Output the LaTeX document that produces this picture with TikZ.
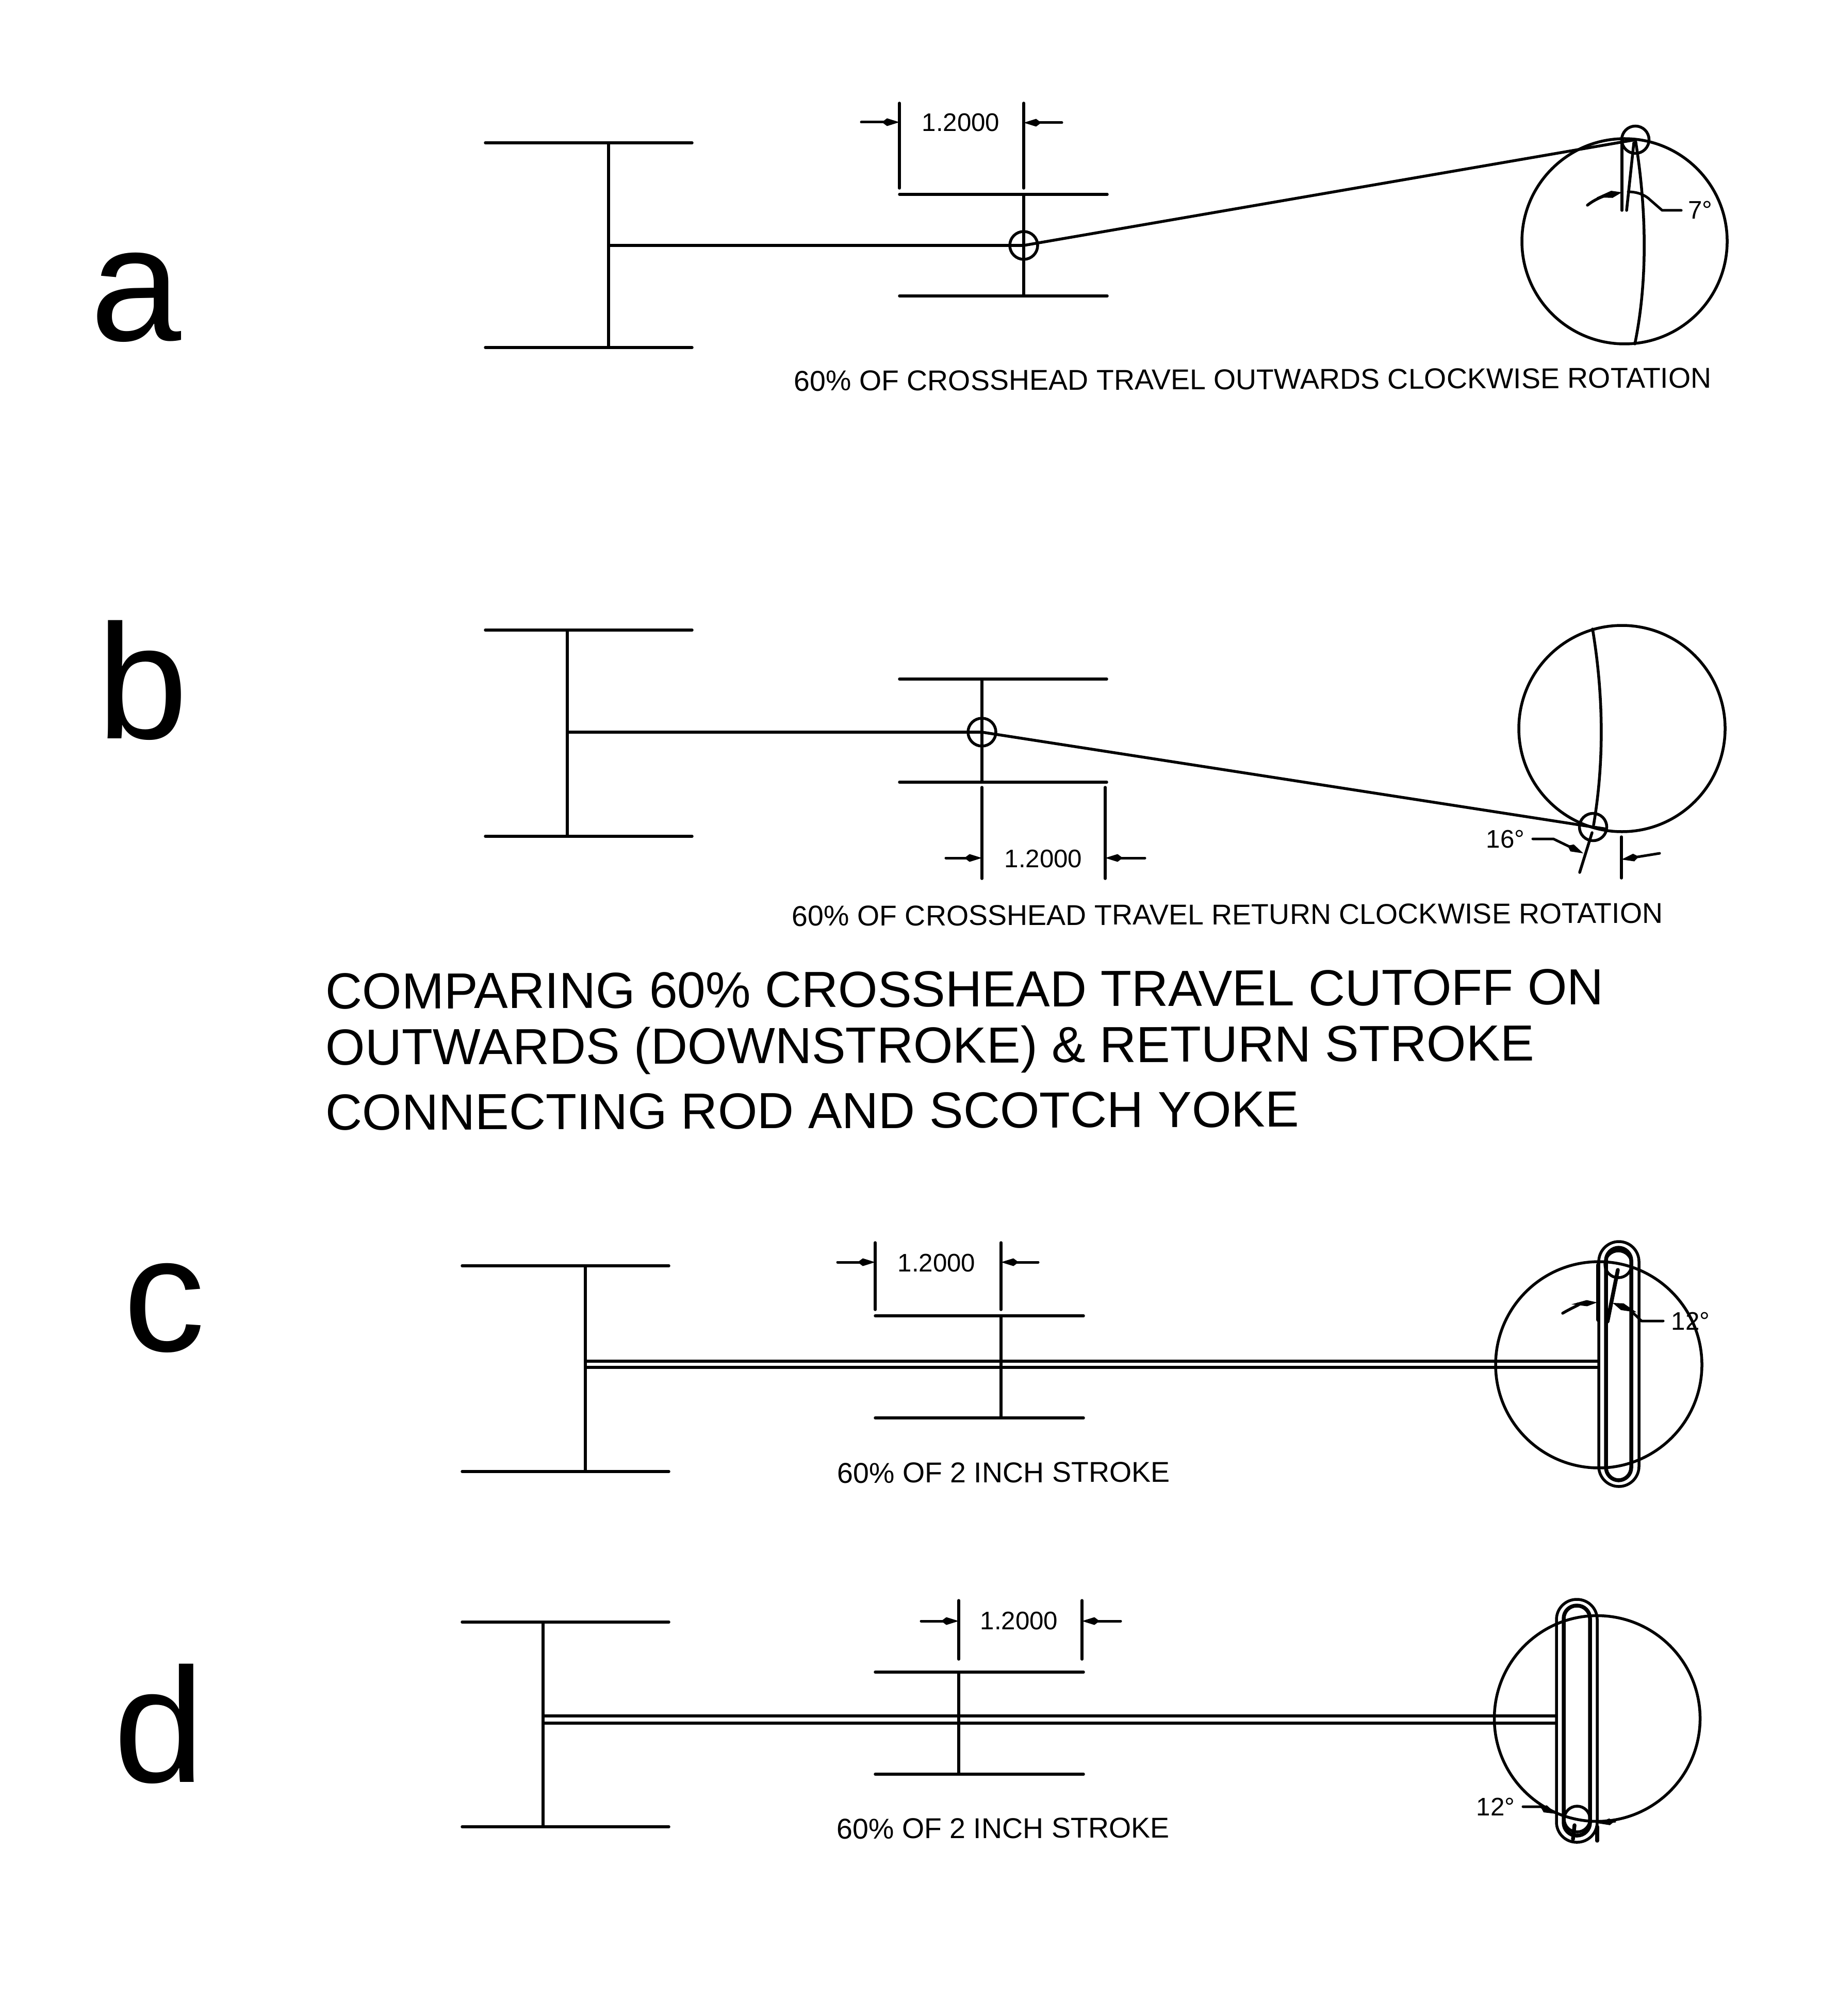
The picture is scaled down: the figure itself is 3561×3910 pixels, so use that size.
\documentclass[tikz,border=0pt]{standalone}
\usepackage{fontspec}
\setmainfont{Liberation Sans}
\usetikzlibrary{arrows.meta}
\tikzset{
  ln/.style={line width=0.055cm,line cap=round,line join=round,black},
  thk/.style={line width=0.075cm,line cap=round,line join=round,black},
  dimarrow/.style={line width=0.05cm,line cap=round,-{Kite[length=0.34cm,width=0.15cm,inset=0.1cm]}},
  dimtext/.style={font=\fontsize{14}{14}\selectfont,inner sep=0pt},
  captiontext/.style={font=\fontsize{15.8}{16}\selectfont,inner sep=0pt,rotate=0.2},
  titletext/.style={font=\fontsize{28}{28}\selectfont,inner sep=0pt,anchor=west,rotate=0.2},
  lettertext/.style={font=\fontsize{90}{90}\selectfont,inner sep=0pt,anchor=base},
  slotouter/.style={ln,rounded corners=0.39cm},
  slotinner/.style={thk,rounded corners=0.25cm}
}
\begin{document}
\begin{tikzpicture}[x=0.01cm,y=-0.01cm]
\useasboundingbox (0,0) rectangle (3561,3910);
% ---------- letters
\node[lettertext] (la) at (264,661) {a};
\node[lettertext] (lb) at (277,1432) {b};
\node[lettertext] (lc) at (319,2620) {c};
\node[lettertext] (ld) at (309,3456) {d};
% ---------- panel a
\coordinate (apin) at (1985,476);
\coordinate (acrank) at (3171,271);
\draw[ln] (941,277) -- (1342,277);
\draw[ln] (941,674) -- (1342,674);
\draw[ln] (1180,277) -- (1180,674);
\draw[ln] (1180,476) -- (apin);
\draw[ln] (1744,377) -- (2147,377);
\draw[ln] (1744,574) -- (2147,574);
\draw[ln] (1985,377) -- (1985,574);
\draw[ln] (apin) circle (27);
\draw[ln] (apin) -- (acrank);
\draw[ln] (1744,200) -- (1744,365);
\draw[ln] (1985,200) -- (1985,365);
\draw[dimarrow] (1670,237) -- (1744,237);
\draw[dimarrow] (2059,238) -- (1985,238);
\node[dimtext] (adim) at (1863,238) {1.2000};
\draw[ln] (3150,468) circle (199);
\draw[ln] (acrank) circle (26.5);
\draw[ln] (acrank) .. controls (3192,400) and (3196,540) .. (3170,667);
\draw[ln] (3145,270) -- (3145,408);
\draw[ln] (3154,408) -- (3168,277);
\draw[ln,-{Kite[length=0.5cm,width=0.14cm,inset=0.3cm]}] (3078,398) .. controls (3098,382) and (3120,378) .. (3145,373);
\draw[ln,line width=0.05cm] (3157,372) .. controls (3175,372) and (3190,378) .. (3200,388) -- (3223,408) -- (3260,408);
\node[dimtext] (aang) at (3297,407) {7°};
\node[captiontext] (acap) at (2429,736) {60\% OF CROSSHEAD TRAVEL OUTWARDS CLOCKWISE ROTATION};
% ---------- panel b
\coordinate (bpin) at (1904,1420);
\coordinate (bcrank) at (3089,1604);
\draw[ln] (941,1222) -- (1342,1222);
\draw[ln] (941,1622) -- (1342,1622);
\draw[ln] (1100,1222) -- (1100,1622);
\draw[ln] (1100,1420) -- (bpin);
\draw[ln] (1744,1317) -- (2146,1317);
\draw[ln] (1744,1517) -- (2146,1517);
\draw[ln] (1904,1317) -- (1904,1517);
\draw[ln] (bpin) circle (27);
\draw[ln] (bpin) -- (3115,1608);
\draw[ln] (1904,1527) -- (1904,1704);
\draw[ln] (2143,1527) -- (2143,1704);
\draw[dimarrow] (1834,1664) -- (1904,1664);
\draw[dimarrow] (2220,1664) -- (2143,1664);
\node[dimtext] (bdim) at (2023,1666) {1.2000};
\draw[ln] (3145,1413) circle (200);
\draw[ln] (bcrank) circle (26.5);
\draw[ln] (3088,1220) .. controls (3108,1340) and (3112,1470) .. (3090,1600);
\draw[ln] (3087,1615) -- (3063,1692);
\draw[ln] (3144,1623) -- (3144,1703);
\draw[dimarrow] (3218,1655) -- (3144,1667);
\draw[dimarrow] (2972,1627) -- (3012,1627) -- (3070,1655);
\node[dimtext,anchor=east] (bang) at (2957,1628) {16°};
\node[captiontext] (bcap) at (2380,1774) {60\% OF CROSSHEAD TRAVEL RETURN CLOCKWISE ROTATION};
% ---------- title
\node[titletext] (t1) at (631,1923) {COMPARING 60\% CROSSHEAD TRAVEL CUTOFF ON};
\node[titletext] (t2) at (631,2040) {OUTWARDS (DOWNSTROKE) \& RETURN STROKE};
\node[titletext] (t3) at (631,2158) {CONNECTING ROD AND SCOTCH YOKE};
% ---------- panel c
\draw[ln] (896,2455) -- (1297,2455);
\draw[ln] (896,2854) -- (1297,2854);
\draw[ln] (1135,2455) -- (1135,2854);
\draw[ln] (1135,2640) -- (3100,2640);
\draw[ln] (1135,2652) -- (3100,2652);
\draw[ln] (1697,2552) -- (2101,2552);
\draw[ln] (1697,2750) -- (2101,2750);
\draw[ln] (1941,2552) -- (1941,2750);
\draw[ln] (1697,2410) -- (1697,2540);
\draw[ln] (1941,2410) -- (1941,2540);
\draw[dimarrow] (1624,2448) -- (1697,2448);
\draw[dimarrow] (2013,2448) -- (1941,2448);
\node[dimtext] (cdim) at (1816,2450) {1.2000};
\draw[ln] (3100,2647) circle (200);
\draw[slotouter] (3100,2408) rectangle (3178,2883);
\draw[slotinner] (3114,2420) rectangle (3163,2871);
\coordinate (ccrank) at (3138,2452);
\draw[ln] (ccrank) circle (26);
\draw[thk] (3099,2453) -- (3099,2560);
\draw[thk] (3117,2563) -- (3137,2463);
\draw[ln,-{Kite[length=0.5cm,width=0.12cm,inset=0.3cm]}] (3030,2547) .. controls (3050,2535) and (3070,2528) .. (3097,2526);
\draw[dimarrow,{Kite[length=0.5cm,width=0.14cm,inset=0.3cm]}-] (3127,2527) -- (3160,2540) -- (3183,2562) -- (3225,2562);
\node[dimtext,anchor=west] (cang) at (3240,2562) {12°};
\node[captiontext] (ccap) at (1946,2856) {60\% OF 2 INCH STROKE};
% ---------- panel d
\draw[ln] (896,3146) -- (1297,3146);
\draw[ln] (896,3543) -- (1297,3543);
\draw[ln] (1053,3146) -- (1053,3543);
\draw[ln] (1053,3328) -- (3017,3328);
\draw[ln] (1053,3342) -- (3017,3342);
\draw[ln] (1697,3243) -- (2101,3243);
\draw[ln] (1697,3441) -- (2101,3441);
\draw[ln] (1859,3243) -- (1859,3441);
\draw[ln] (1859,3104) -- (1859,3218);
\draw[ln] (2098,3104) -- (2098,3218);
\draw[dimarrow] (1786,3144) -- (1859,3144);
\draw[dimarrow] (2173,3144) -- (2098,3144);
\node[dimtext] (ddim) at (1976,3144) {1.2000};
\draw[ln] (3097,3333) circle (199.5);
\draw[slotouter] (3018,3102) rectangle (3097,3573);
\draw[slotinner] (3032,3114) rectangle (3083,3560);
\coordinate (dcrank) at (3058,3528);
\draw[ln] (dcrank) circle (25);
\draw[thk] (3053,3540) -- (3050,3567);
\draw[thk] (3097,3543) -- (3097,3570);
\draw[dimarrow] (2953,3504) -- (2987,3504) -- (3018,3518);
\draw[line width=0.05cm,-{Kite[length=0.34cm,width=0.13cm,inset=0.1cm]}] (3133,3532) -- (3097,3536);
\node[dimtext,anchor=east] (dang) at (2938,3504) {12°};
\node[captiontext] (dcap) at (1945,3546) {60\% OF 2 INCH STROKE};
\end{tikzpicture}
\end{document}
